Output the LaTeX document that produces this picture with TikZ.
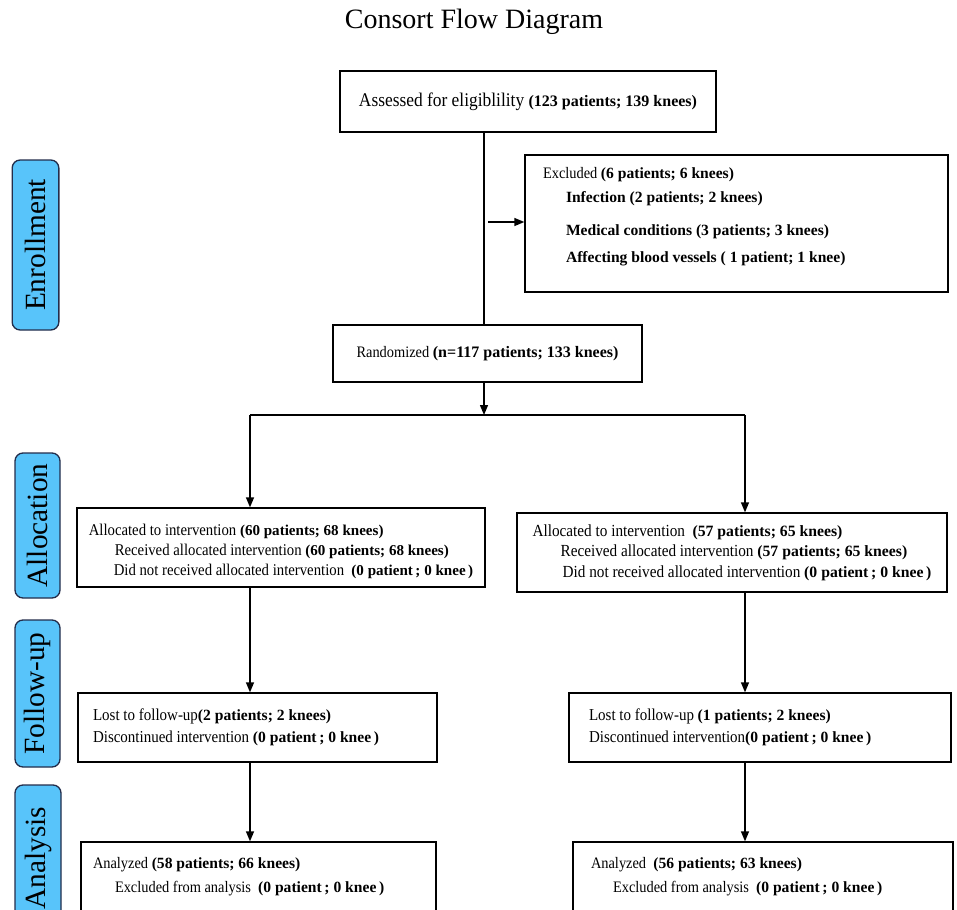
\documentclass[tikz,border=0pt]{standalone}
\usepackage{fontspec}
\setmainfont{Liberation Serif}
\newfontfamily\narrowrm[FakeStretch=0.9]{Liberation Serif}
\newfontfamily\plainrm{Liberation Serif}
\usetikzlibrary{arrows.meta,positioning}
\frenchspacing

\definecolor{stagefill}{RGB}{88,196,250}
\definecolor{stageline}{RGB}{35,45,75}

% bold counts inside the boxes
\newcommand{\cnt}[1]{{\plainrm\fontsize{11.7}{13}\selectfont\bfseries #1}}
\newcommand{\midcnt}[1]{{\plainrm\fontsize{11.3}{13}\selectfont\bfseries #1}}
\newcommand{\bigcnt}[1]{{\plainrm\fontsize{11.8}{13}\selectfont\bfseries #1}}

\tikzset{
  box/.style={draw, line width=1pt, rectangle, align=flush left, inner ysep=0pt},
  stage/.style={draw=stageline, fill=stagefill, line width=1pt, rounded corners=6pt,
                rotate=90, inner sep=0pt, font=\fontsize{22}{24}\selectfont},
  flow/.style={line width=1pt, -{Triangle[length=7.5pt,width=6pt]}},
}

\begin{document}
\begin{tikzpicture}[x=0.75pt, y=-0.75pt]
  \useasboundingbox (0,0) rectangle (957,910);
  \clip (0,0) rectangle (957,910);

  \node (title) at (474,22) {\fontsize{21}{24}\selectfont Consort Flow Diagram};

  % stages
  \node[stage, minimum width=127.5pt, minimum height=35pt] (enroll) at (35.5,245) {Enrollment};
  \node[stage, minimum width=108.75pt, minimum height=33.75pt] (alloc) at (37.5,525.5) {Allocation};
  \node[stage, minimum width=110.25pt, minimum height=33.75pt] (follow) at (37.5,693.5) {Follow-up};
  \node[stage, minimum width=109.5pt, minimum height=34.5pt] (anal) at (38,858) {Analysis};

  % boxes
  \node[box, minimum width=282pt, minimum height=45.75pt,
        font=\narrowrm\fontsize{14.5}{16}\selectfont] (assess) at (528,101.5)
        {Assessed for eligiblility {\plainrm\fontsize{12}{14}\selectfont\bfseries(123 patients; 139 knees)}};

  \node[box, minimum width=317.25pt, minimum height=102.75pt, inner xsep=13.5pt,
        text width=290.25pt, font=\narrowrm\fontsize{12}{18}\selectfont] (excl) at (736.5,223.5)
        {Excluded \cnt{(6 patients; 6 knees)}\\
         \hspace*{17.25pt}\cnt{Infection (2 patients; 2 knees)}\\[6.75pt]
         \hspace*{17.25pt}\cnt{Medical conditions (3 patients; 3 knees)}\\[2.25pt]
         \hspace*{17.25pt}\cnt{Affecting blood vessels ( 1 patient; 1 knee)}\\[-5pt]\mbox{}};

  \node[box, align=center, minimum width=231.75pt, minimum height=42.75pt,
        font=\narrowrm\fontsize{12}{15}\selectfont] (rand) at (487.5,353.5)
        {Randomized {\plainrm\fontsize{12}{14}\selectfont\bfseries(n=117 patients; 133 knees)}};

  \node[box, minimum width=306pt, minimum height=59.25pt,
        font=\narrowrm\fontsize{12.3}{15}\selectfont] (allocL) at (281,547.5)
        {\mbox{}\\
         Allocated to intervention \midcnt{(60 patients; 68 knees)}\\
         \hspace*{19.5pt}Received allocated intervention \midcnt{(60 patients; 68 knees)}\\
         \hspace*{18.75pt}Did not received allocated intervention \ \midcnt{(0 patient\,; 0 knee\,)}};

  \node[box, minimum width=322.5pt, minimum height=59.25pt,
        font=\narrowrm\fontsize{12.7}{15.5}\selectfont] (allocR) at (732,552.5)
        {Allocated to intervention \ \bigcnt{(57 patients; 65 knees)}\\
         \hspace*{21pt}Received allocated intervention \bigcnt{(57 patients; 65 knees)}\\
         \hspace*{22.5pt}Did not received allocated intervention \bigcnt{(0 patient\,; 0 knee\,)}};

  \node[box, minimum width=269.25pt, minimum height=51.75pt, inner xsep=11.25pt,
        text width=246.75pt, font=\narrowrm\fontsize{12.5}{16.5}\selectfont] (fuL) at (257.5,727.5)
        {Lost to follow-up\cnt{(2 patients; 2 knees)}\\
         Discontinued intervention \cnt{(0 patient\,; 0 knee\,)}};

  \node[box, minimum width=286.5pt, minimum height=51.75pt, inner xsep=15pt,
        text width=256.5pt, font=\narrowrm\fontsize{12.5}{16.5}\selectfont] (fuR) at (760,727.5)
        {Lost to follow-up \cnt{(1 patients; 2 knees)}\\
         Discontinued intervention\cnt{(0 patient\,; 0 knee\,)}};

  \node[box, minimum width=266.25pt, minimum height=52.5pt, inner xsep=9pt,
        text width=248.25pt, font=\narrowrm\fontsize{12}{18}\selectfont] (anL) at (258.5,877)
        {Analyzed \cnt{(58 patients; 66 knees)}\\
         \hspace*{16.5pt}Excluded from analysis \ \cnt{(0 patient\,; 0 knee\,)}};

  \node[box, minimum width=285pt, minimum height=52.5pt, inner xsep=13.5pt,
        text width=258pt, font=\narrowrm\fontsize{12}{18}\selectfont] (anR) at (763,877)
        {Analyzed \ \cnt{(56 patients; 63 knees)}\\
         \hspace*{16.5pt}Excluded from analysis \ \cnt{(0 patient\,; 0 knee\,)}};

  % connectors
  \coordinate (tap) at (488,222);
  \coordinate (split) at (484,415);
  \coordinate (colL) at (250,415);
  \coordinate (colR) at (745,415);

  \draw[line width=1pt] (assess.south -| split) -- (split |- rand.north);
  \draw[flow] (tap) -- (tap -| excl.west);
  \draw[flow] (split |- rand.south) -- (split);
  \draw[line width=1pt] (colL) -- (colR);
  \draw[flow] (colL) -- (colL |- allocL.north);
  \draw[flow] (colR) -- (colR |- allocR.north);
  \draw[flow] (colL |- allocL.south) -- (colL |- fuL.north);
  \draw[flow] (colR |- allocR.south) -- (colR |- fuR.north);
  \draw[flow] (colL |- fuL.south) -- (colL |- anL.north);
  \draw[flow] (colR |- fuR.south) -- (colR |- anR.north);
\end{tikzpicture}
\end{document}
